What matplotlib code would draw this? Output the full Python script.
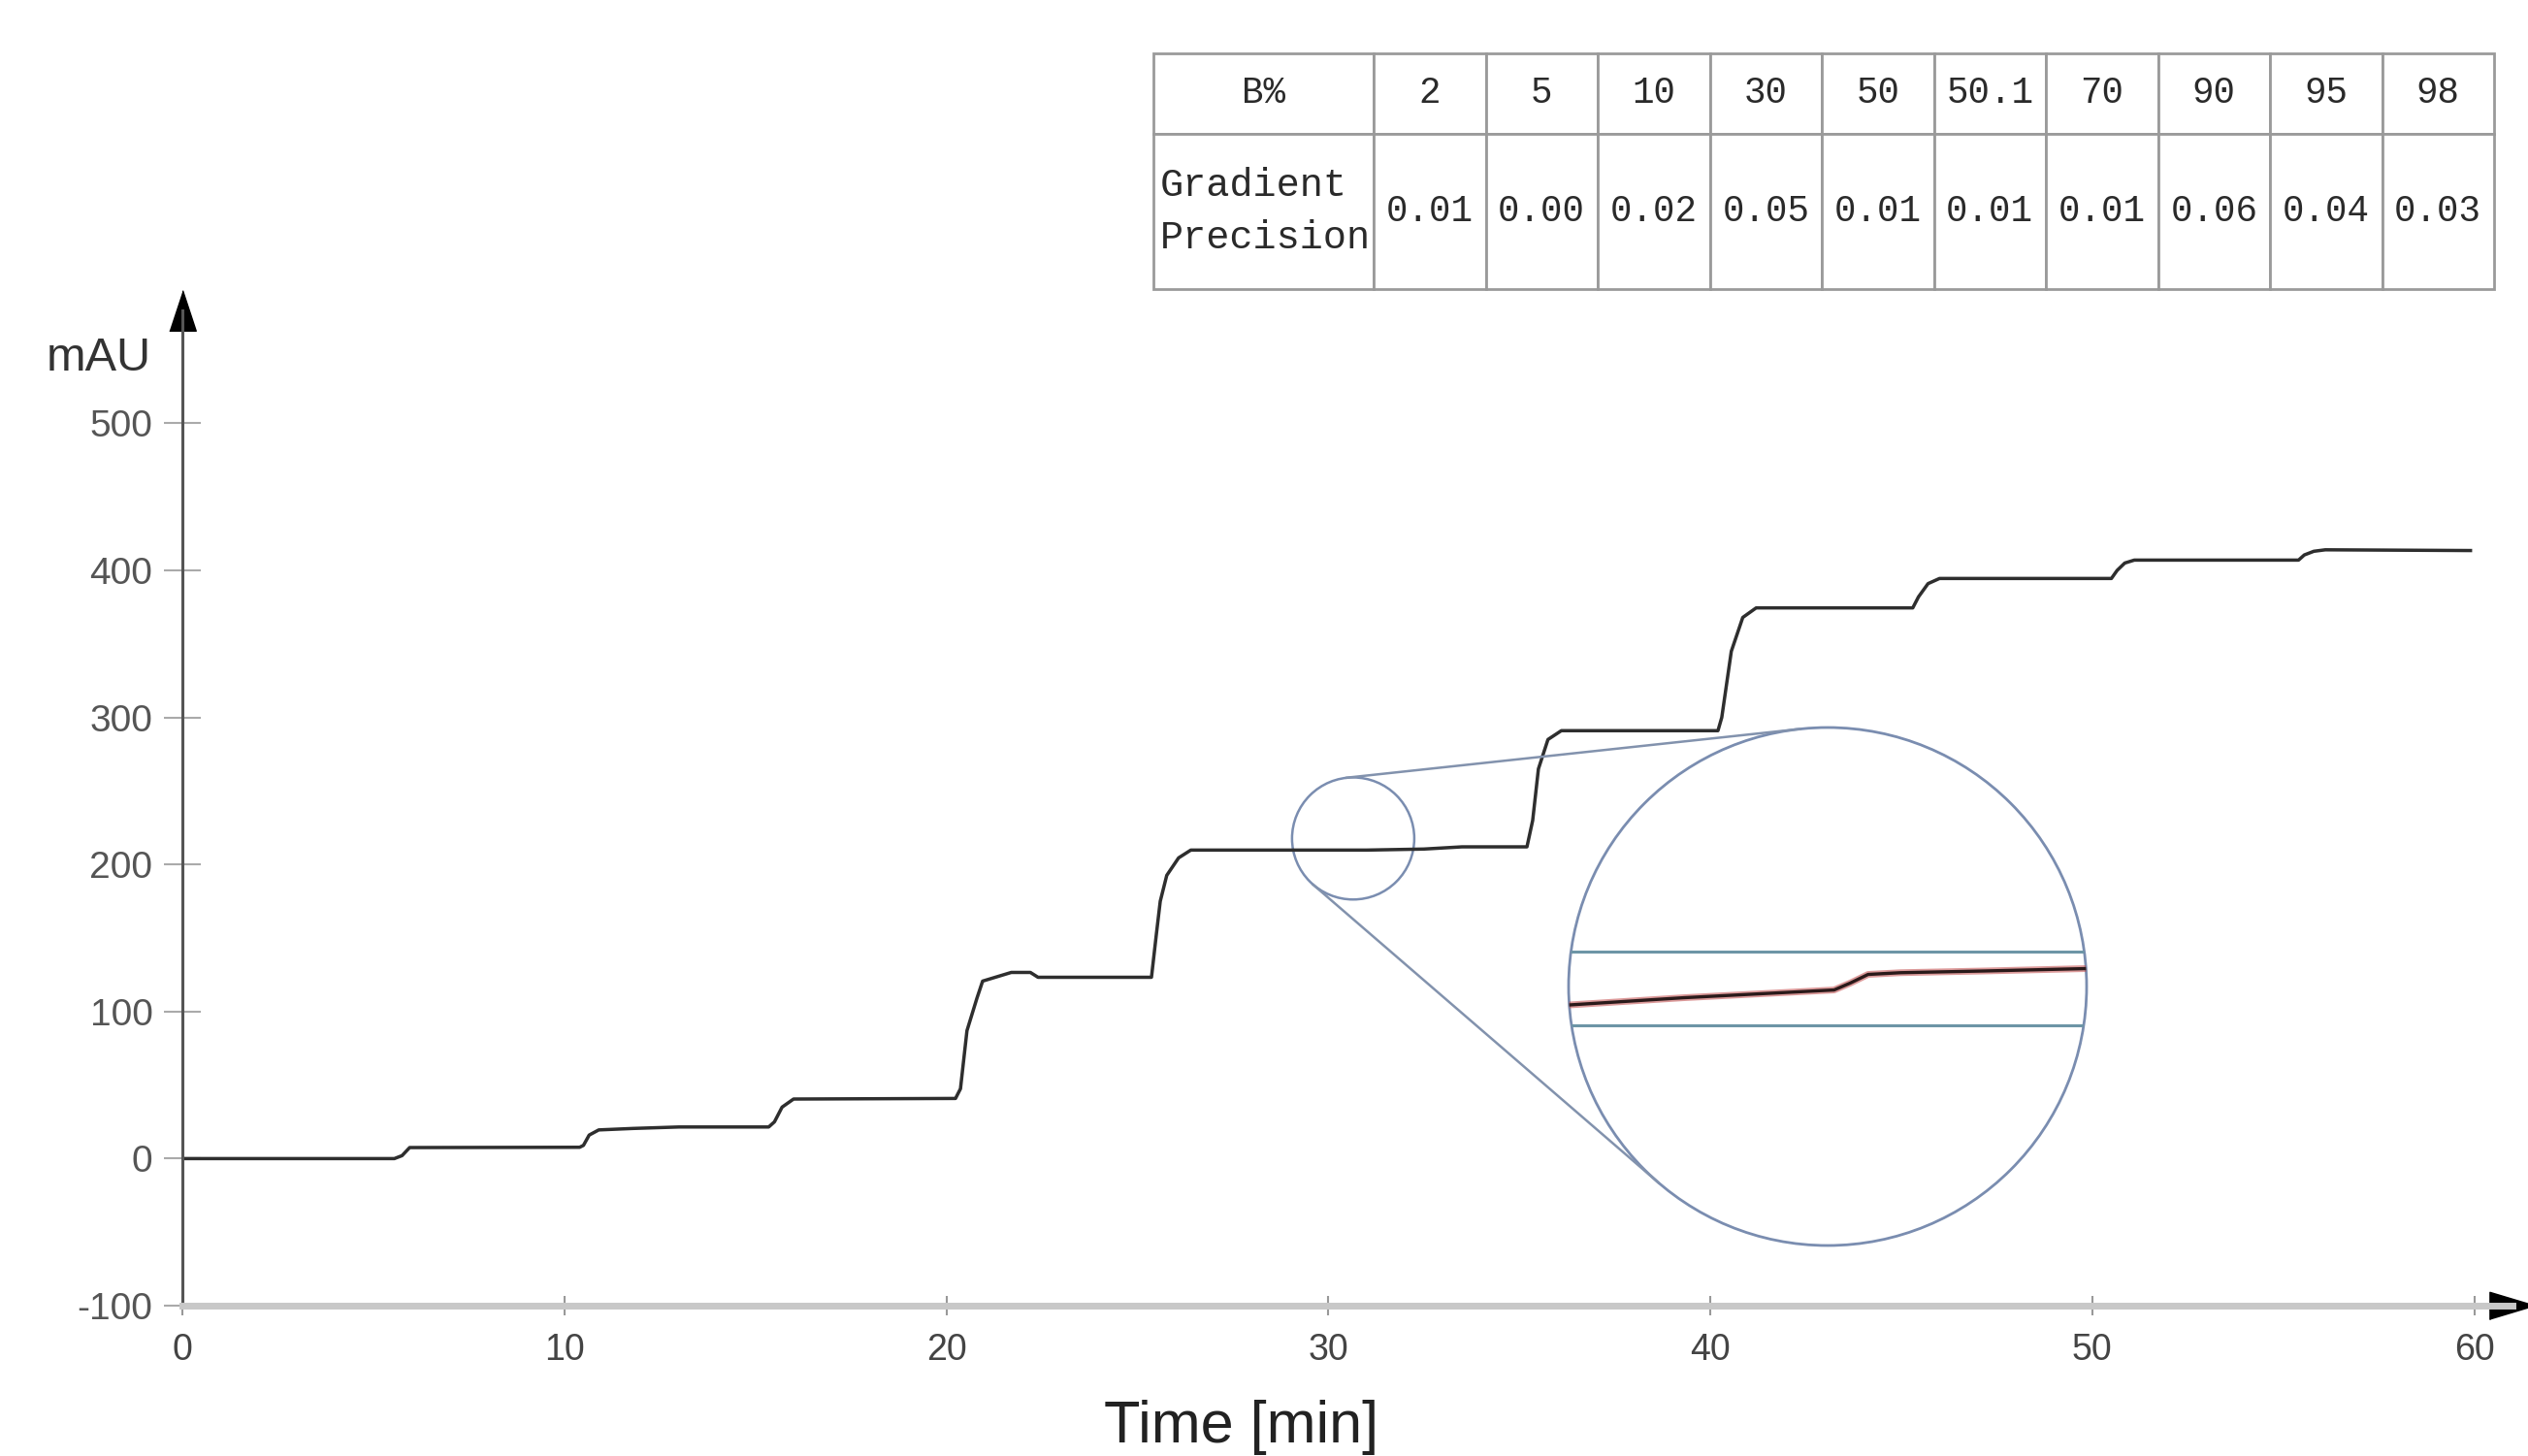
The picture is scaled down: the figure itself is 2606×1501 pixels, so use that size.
import numpy as np
import matplotlib
matplotlib.use('Agg')
import matplotlib.pyplot as plt
from matplotlib.patches import Ellipse, Circle
from matplotlib.lines import Line2D
from matplotlib import font_manager

# step gradient trace: time (min) vs absorbance (mAU)
time_min = [0.0, 5.55, 5.75, 5.95, 10.4,
            10.5, 10.65, 10.9, 11.8, 13.0, 15.35,
            15.5, 15.7, 16.0, 20.24,
            20.37, 20.54, 20.8, 20.95, 21.7, 22.2, 22.4, 25.37,
            25.5, 25.6, 25.77, 26.08, 26.4, 31.0, 32.5, 33.5, 35.2,
            35.35, 35.5, 35.75, 36.1, 40.2,
            40.3, 40.55, 40.85, 41.2, 45.3,
            45.45, 45.7, 46.0, 50.5,
            50.65, 50.85, 51.1, 55.4,
            55.55, 55.8, 56.1, 59.9]
mau = [0, 0, 2, 7.5, 7.7,
       9, 16, 19.5, 20.5, 21.5, 21.5,
       25, 35, 40.5, 40.9,
       47.5, 87, 109, 120.7, 126.6, 126.6, 123.3, 123.3,
       153, 175, 192.6, 204.5, 209.8, 209.8, 210.5, 212, 212,
       230, 265, 285, 291, 291,
       300, 345, 368, 374.5, 374.5,
       382, 391, 394.5, 394.5,
       400, 405, 407, 407,
       410.5, 413, 414, 413.5]

x_ticks = [0, 10, 20, 30, 40, 50, 60]
y_ticks = [-100, 0, 100, 200, 300, 400, 500]

# magnified view
zoom_center = (30.65, 217.7)   # min, mAU
zoom_size = (3.2, 83.0)
inset_time = [29.0, 29.76, 30.69, 30.79, 30.90, 31.10, 31.62, 32.3]
inset_mau = [209.78, 209.87, 209.96, 210.04, 210.14, 210.16, 210.18, 210.21]
inset_band = [209.55, 210.40]

# table
b_percent = ['2', '5', '10', '30', '50', '50.1', '70', '90', '95', '98']
gradient_precision = ['0.01', '0.00', '0.02', '0.05', '0.01', '0.01', '0.01', '0.06', '0.04', '0.03']


def has_font(name):
    try:
        font_manager.findfont(font_manager.FontProperties(family=[name]), fallback_to_default=False)
        return True
    except Exception:
        return False


plt.rcParams['font.family'] = ['Liberation Sans', 'DejaVu Sans']
plt.rcParams['axes.unicode_minus'] = False
narrow = 'Liberation Sans Narrow' if has_font('Liberation Sans Narrow') else 'Liberation Sans'
narrow_size = 32 if narrow == 'Liberation Sans Narrow' else 27

W, H = 2606, 1501
fig = plt.figure(figsize=(W / 100, H / 100), dpi=100)

# main axes
ax = fig.add_axes([188 / W, 155 / H, (2590 - 188) / W, (1346 - 320) / H])
ax.set_xlim(0, 61.0)
ax.set_ylim(-100, 576.8)
ax.plot(time_min, mau, color='#2e2e2e', lw=2.5, solid_joinstyle='round')

for s in ['top', 'right']:
    ax.spines[s].set_visible(False)
ax.spines['left'].set_color('#555555')
ax.spines['left'].set_linewidth(2.2)
ax.spines['bottom'].set_color('#c8c8c8')
ax.spines['bottom'].set_linewidth(5)

ax.set_xticks(x_ticks)
ax.set_xticklabels([str(t) for t in x_ticks], family=[narrow, 'DejaVu Sans'], fontsize=narrow_size, color='#444444')
ax.set_yticks(y_ticks)
ax.set_yticklabels([str(t) for t in y_ticks], fontsize=28, color='#555555')
ax.tick_params(axis='x', direction='inout', length=14, width=1.5, color='#999999', pad=13)
ax.tick_params(axis='y', direction='inout', length=28, width=1.5, color='#aaaaaa', pad=8)

# axis arrows
ax.plot([0], [1], transform=ax.transAxes, marker=[(-0.33, -0.5), (0.33, -0.5), (0, 0.5)],
        ms=30, color='black', clip_on=False)
ax.plot([1], [0], transform=ax.transAxes, marker=[(-0.5, -0.3), (-0.5, 0.3), (0.5, 0)],
        ms=34, color='black', clip_on=False)

fig.text(102 / W, 1 - 369 / H, 'mAU', ha='center', va='center', fontsize=35, color='#333333')
fig.text(1280 / W, 1 - 1471 / H, 'Time [min]', ha='center', va='center', fontsize=44, color='#222222')

# small circle around the region that is magnified
circle_col = '#7a8db0'
ax.add_patch(Ellipse(zoom_center, zoom_size[0], zoom_size[1], fill=False, ec=circle_col, lw=1.8))

# magnified inset
ax_in = fig.add_axes([1617 / W, (H - 1284) / H, 534 / W, 534 / H])
ax_in.set_xlim(29.05, 32.25)
ax_in.set_ylim(207.0, 213.0)
ax_in.axis('off')
big = Circle((0.5, 0.5), 0.5, transform=ax_in.transAxes, fill=False, ec=circle_col, lw=2.0, clip_on=False)
ax_in.add_patch(big)
for b in inset_band:
    ln = ax_in.axhline(b, color='#6d95a6', lw=2.2)
    ln.set_clip_path(big)
l1, = ax_in.plot(inset_time, inset_mau, color='#c04848', lw=5, alpha=0.55)
l2, = ax_in.plot(inset_time, inset_mau, color='#2a1a1a', lw=2.4)
l1.set_clip_path(big)
l2.set_clip_path(big)

# tangent lines joining the two circles
c1 = ax.transData.transform(zoom_center)
r1 = ax.transData.transform((zoom_center[0] + zoom_size[0] / 2, zoom_center[1]))[0] - c1[0]
c2 = ax_in.transAxes.transform((0.5, 0.5))
r2 = ax_in.bbox.width / 2
d = c2 - c1
L = np.hypot(*d)
base = np.arctan2(d[1], d[0])
ang = np.arccos(-(r2 - r1) / L)
for sgn in (1, -1):
    phi = base + sgn * ang
    n = np.array([np.cos(phi), np.sin(phi)])
    p1 = c1 + r1 * n
    p2 = c2 + r2 * n
    pts = fig.transFigure.inverted().transform([p1, p2])
    fig.add_artist(Line2D(pts[:, 0], pts[:, 1], transform=fig.transFigure, color='#8292ad', lw=1.8))

# table with gradient precision
tax = fig.add_axes([1189 / W, 1 - 298 / H, (2571 - 1189) / W, (298 - 55) / H])
tax.axis('off')
cells = [['B%'] + b_percent, ['Gradient\nPrecision'] + gradient_precision]
tbl = tax.table(cellText=cells, colWidths=[227] + [115.5] * len(b_percent),
                bbox=[0, 0, 1, 1], cellLoc='center')
tbl.auto_set_font_size(False)
tbl.set_fontsize(27)
for (r, c), cell in tbl.get_celld().items():
    cell.set_edgecolor('#9a9a9a')
    cell.set_linewidth(2)
    cell.set_height(83 if r == 0 else 160)
    cell.get_text().set_fontfamily(['Liberation Mono', 'DejaVu Sans Mono'])
    cell.get_text().set_color('#2a2a2a')
tbl[1, 0].get_text().set_ha('left')
tbl[1, 0].get_text().set_fontsize(29)
tbl[1, 0].get_text().set_linespacing(1.55)
tbl[1, 0].PAD = 0.03

fig.savefig('out.png', dpi=100)
